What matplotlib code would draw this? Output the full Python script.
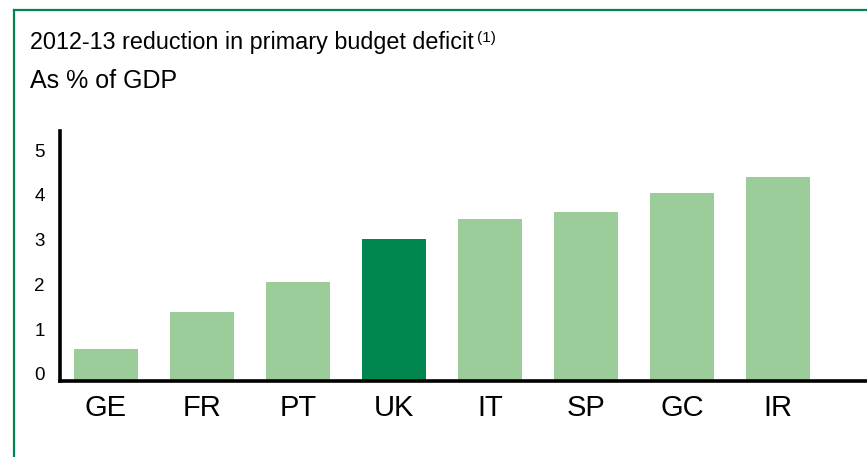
import matplotlib
matplotlib.use("Agg")
import matplotlib.pyplot as plt
from matplotlib.transforms import ScaledTranslation
from matplotlib.lines import Line2D

categories = ["GE", "FR", "PT", "UK", "IT", "SP", "GC", "IR"]
values = [0.71, 1.54, 2.21, 3.17, 3.62, 3.77, 4.20, 4.55]
highlight = "UK"
yticks = [0, 1, 2, 3, 4, 5]
title_main = "2012-13 reduction in primary budget deficit"
title_sup = "(1)"
subtitle = "As % of GDP"

light = "#9CCC9A"
dark = "#008750"

plt.rcParams['font.family'] = ['Liberation Sans', 'DejaVu Sans']

W, H = 867, 457
fig = plt.figure(figsize=(W / 100, H / 100), dpi=100)
fig.patch.set_facecolor("white")

ax = fig.add_axes([60 / W, 76 / H, 1 - 60 / W, 250 / H])
x = list(range(len(categories)))
colors = [dark if c == highlight else light for c in categories]
ax.bar(x, values, width=0.667, color=colors, edgecolor="none")

ax.set_xlim(-0.479, 7.927)
ax.set_ylim(0, 250 / 44.8)

for s in ["top", "right"]:
    ax.spines[s].set_visible(False)
for s in ["left", "bottom"]:
    ax.spines[s].set_linewidth(2.6)
    ax.spines[s].set_color("black")
    ax.spines[s].set_capstyle("projecting")

ax.set_xticks(x)
ax.set_xticklabels(categories, fontsize=21)
ax.set_yticks(yticks)
ax.set_yticklabels([str(t) for t in yticks], fontsize=13.5)
ax.tick_params(axis="both", length=0)
ax.tick_params(axis="x", pad=9)
ax.tick_params(axis="y", pad=11)
off = ScaledTranslation(0, 7 / 100, fig.dpi_scale_trans)
for lab in ax.get_yticklabels():
    lab.set_transform(lab.get_transform() + off)

# Title texts
t1 = fig.text(30 / W, 1 - 49 / H, title_main, fontsize=16.8, ha="left", va="baseline")
fig.canvas.draw()
bb = t1.get_window_extent()
fig.text(bb.x1 / W + 3 / W, 1 - 42 / H, title_sup, fontsize=11, ha="left", va="baseline")
fig.text(30 / W, 1 - 88 / H, subtitle, fontsize=18, ha="left", va="baseline")

# Frame lines (left and top)
fig.add_artist(Line2D([13.5 / W, 13.5 / W], [0, 1 - 9.5 / H], transform=fig.transFigure,
                      color=dark, linewidth=1.6))
fig.add_artist(Line2D([13.5 / W, 1], [1 - 9.5 / H, 1 - 9.5 / H], transform=fig.transFigure,
                      color=dark, linewidth=1.6))

fig.savefig("out.png", dpi=100, facecolor="white")
